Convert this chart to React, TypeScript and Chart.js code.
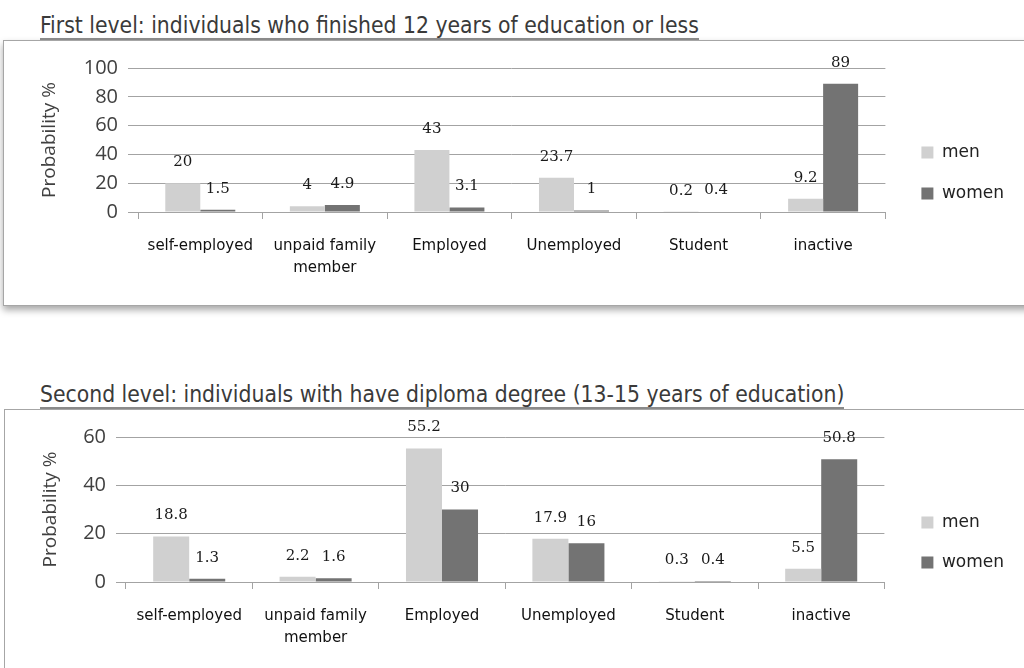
import React, { useEffect, useRef } from 'react';
import { Chart, registerables } from 'chart.js';

Chart.register(...registerables);

// ---------- data ----------
const categories: (string | string[])[] = [
  'self-employed',
  ['unpaid family', 'member'],
  'Employed',
  'Unemployed',
  'Student',
  'inactive',
];
const seriesNames = ['men', 'women'];

const title1 = 'First level: individuals who finished 12 years of education or less';
const level1Men = [20, 4, 43, 23.7, 0.2, 9.2];
const level1Women = [1.5, 4.9, 3.1, 1, 0.4, 89];
const level1YTicks = [0, 20, 40, 60, 80, 100];

const title2 = 'Second level: individuals with have diploma degree (13-15 years of education)';
const level2Men = [18.8, 2.2, 55.2, 17.9, 0.3, 5.5];
const level2Women = [1.3, 1.6, 30, 16, 0.4, 50.8];
const level2YTicks = [0, 20, 40, 60];

const yAxisTitle = 'Probability %';

// ---------- styles ----------
const MEN_COLOR = '#d0d0d0';
const WOMEN_COLOR = '#737373';
const GRID_COLOR = '#a3a3a3';

const valueLabels = {
  id: 'valueLabels',
  afterDatasetsDraw(chart: any, _args: any, opts: any) {
    const ctx = chart.ctx;
    ctx.save();
    ctx.font = `${opts.size}px ${opts.family}`;
    ctx.fillStyle = opts.color;
    ctx.textAlign = 'center';
    ctx.textBaseline = 'middle';
    chart.data.datasets.forEach((ds: any, i: number) => {
      const meta = chart.getDatasetMeta(i);
      meta.data.forEach((el: any, j: number) => {
        ctx.fillText(String(ds.data[j]), el.x, el.y - opts.offset);
      });
    });
    ctx.restore();
  },
};

type PanelProps = {
  title: string;
  titleTop: number;
  boxTop: number;
  boxLeft: number;
  boxHeight: number;
  shadow: boolean;
  canvasW: number;
  canvasH: number;
  men: number[];
  women: number[];
  yTicks: number[];
  pad: { top: number; right: number; bottom: number; left: number };
  yAxisW: number;
  xAxisH: number;
  legendPad: number;
  gap: number;
  catPct: number;
  yTitlePad: number;
  xTickPad: number;
};

function BarPanel(p: PanelProps) {
  const ref = useRef<HTMLCanvasElement | null>(null);

  useEffect(() => {
    if (!ref.current) return;
    const yStep = p.yTicks[1] - p.yTicks[0];
    const chart = new Chart(ref.current, {
      type: 'bar',
      data: {
        labels: categories,
        datasets: [
          {
            label: seriesNames[0],
            data: p.men,
            backgroundColor: MEN_COLOR,
            borderWidth: 0,
            categoryPercentage: p.catPct,
            barPercentage: 1,
          },
          {
            label: seriesNames[1],
            data: p.women,
            backgroundColor: WOMEN_COLOR,
            borderWidth: 0,
            categoryPercentage: p.catPct,
            barPercentage: 1,
          },
        ],
      },
      options: {
        animation: false,
        responsive: true,
        maintainAspectRatio: false,
        layout: { padding: p.pad },
        scales: {
          x: {
            grid: {
              display: true,
              drawOnChartArea: false,
              drawTicks: true,
              tickLength: 7,
              color: GRID_COLOR,
              offset: true,
            },
            border: { display: true, color: GRID_COLOR },
            ticks: {
              autoSkip: false,
              maxRotation: 0,
              minRotation: 0,
              padding: p.xTickPad,
              color: '#111111',
              font: { family: '"DejaVu Sans"', size: 15, lineHeight: 1.47 },
            },
            afterFit: (s: any) => {
              s.height = p.xAxisH;
            },
          },
          y: {
            min: p.yTicks[0],
            max: p.yTicks[p.yTicks.length - 1],
            grid: {
              color: GRID_COLOR,
              tickLength: 10,
              drawTicks: true,
            },
            border: { display: false },
            ticks: {
              stepSize: yStep,
              padding: 10,
              color: '#404040',
              font: { family: '"Open Sans"', size: 20 },
            },
            title: {
              display: true,
              text: yAxisTitle,
              color: '#404040',
              font: { family: '"Open Sans"', size: 19 },
              padding: { top: p.yTitlePad, bottom: 0 },
            },
            afterFit: (s: any) => {
              s.width = p.yAxisW;
            },
          },
          gapAxis: {
            type: 'linear',
            position: 'right',
            display: true,
            grid: { display: false, drawTicks: false },
            border: { display: false },
            ticks: { display: false },
            afterFit: (s: any) => {
              s.width = p.gap;
            },
          },
        },
        plugins: {
          legend: {
            position: 'right',
            align: 'center',
            labels: {
              boxWidth: 12,
              boxHeight: 12,
              padding: p.legendPad,
              color: '#222222',
              font: { family: '"DejaVu Sans"', size: 17 },
            },
          },
          tooltip: { enabled: false },
          valueLabels: {
            size: 15,
            family: '"DejaVu Serif"',
            color: '#1a1a1a',
            offset: 21,
          },
        } as any,
      },
      plugins: [valueLabels],
    } as any);
    return () => chart.destroy();
  }, []);

  return (
    <>
      <div
        style={{
          position: 'absolute',
          left: p.boxLeft,
          top: p.boxTop,
          width: 1040,
          height: p.boxHeight,
          border: '1px solid #a6a6a6',
          background: '#ffffff',
          boxShadow: p.shadow ? '0 4px 7px rgba(0,0,0,0.35)' : 'none',
        }}
      >
        <div style={{ position: 'absolute', left: 0, top: 0, width: p.canvasW, height: p.canvasH }}>
          <canvas ref={ref} />
        </div>
      </div>
      <div
        style={{
          position: 'absolute',
          left: 40,
          top: p.titleTop,
          fontFamily: '"DejaVu Sans Condensed", "DejaVu Sans"',
          fontStretch: 'condensed',
          fontSize: 22.7,
          lineHeight: '26px',
          color: '#3a3a3a',
          borderBottom: '2px solid #8a8a8a',
          whiteSpace: 'nowrap',
        }}
      >
        {p.title}
      </div>
    </>
  );
}

export default function App() {
  return (
    <div
      style={{
        position: 'absolute',
        left: 0,
        top: 0,
        width: 1024,
        height: 668,
        overflow: 'hidden',
        background: '#ffffff',
      }}
    >
      <BarPanel
        title={title1}
        titleTop={12}
        boxTop={40}
        boxLeft={3}
        boxHeight={264}
        shadow={true}
        canvasW={1020}
        canvasH={262}
        men={level1Men}
        women={level1Women}
        yTicks={level1YTicks}
        pad={{ top: 27, right: 10, bottom: 25, left: 0 }}
        yAxisW={134}
        xAxisH={66}
        legendPad={24}
        gap={12}
        catPct={0.562}
        yTitlePad={34}
        xTickPad={16}
      />
      <BarPanel
        title={title2}
        titleTop={381}
        boxTop={409}
        boxLeft={4}
        boxHeight={300}
        shadow={false}
        canvasW={1019}
        canvasH={258}
        men={level2Men}
        women={level2Women}
        yTicks={level2YTicks}
        pad={{ top: 27, right: 10, bottom: 20, left: 0 }}
        yAxisW={121}
        xAxisH={66}
        legendPad={23}
        gap={14}
        catPct={0.57}
        yTitlePad={34}
        xTickPad={16}
      />
    </div>
  );
}
